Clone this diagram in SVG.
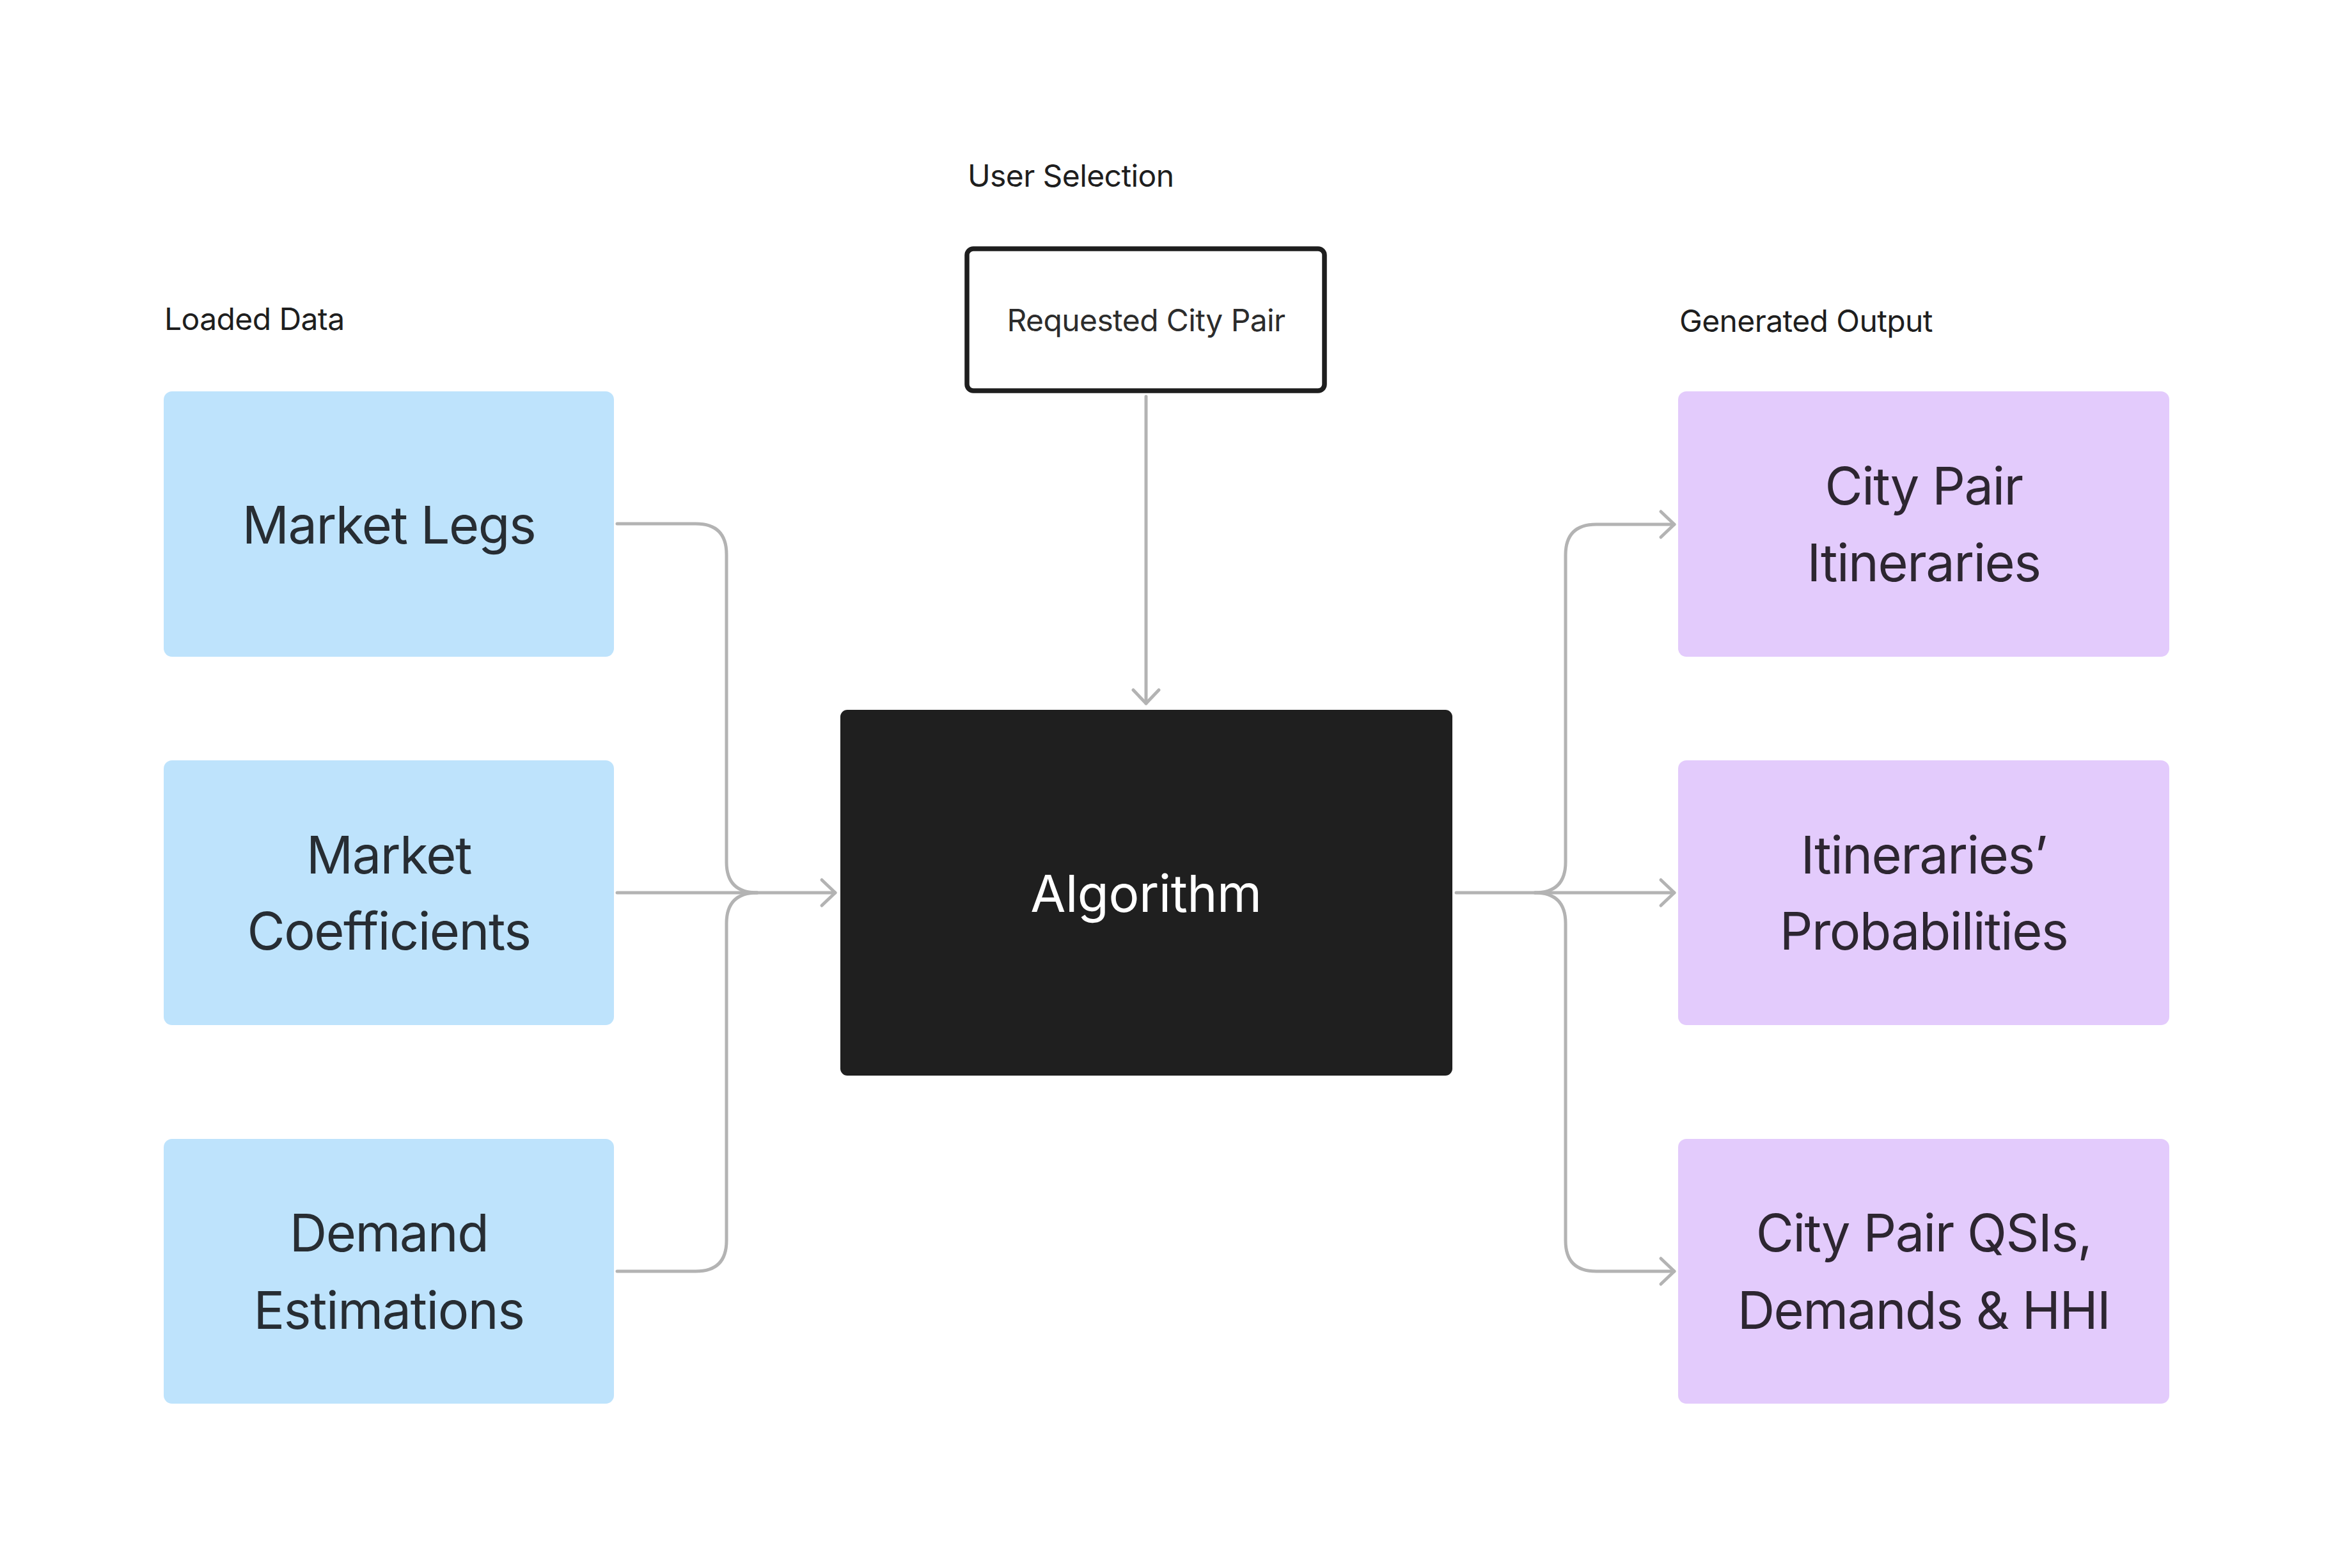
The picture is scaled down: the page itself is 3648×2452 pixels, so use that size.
<svg xmlns="http://www.w3.org/2000/svg" width="3648" height="2452" viewBox="0 0 3648 2452">
<style>
  .lbl { font-family: Inter, "Liberation Sans", sans-serif; font-size: 48px; fill: #1e1e1e; letter-spacing: -0.6px; }
  .big { font-family: Inter, "Liberation Sans", sans-serif; font-size: 81px; text-anchor: middle; letter-spacing: -1.5px; }
  .blue rect { fill: #bee3fc; }
  .blue text { fill: #272d33; }
  .purple rect { fill: #e3cbfc; }
  .purple text { fill: #2d2631; }
  .conn path { fill: none; stroke: #b3b3b3; stroke-width: 5; stroke-linecap: round; stroke-linejoin: round; }
</style>
<defs>
  <marker id="arrow" markerUnits="userSpaceOnUse" markerWidth="60" markerHeight="60" refX="0" refY="0" viewBox="-30 -30 60 60" orient="auto" overflow="visible">
    <path d="M -21 -20 L 0 0 L -21 20" fill="none" stroke="#b3b3b3" stroke-width="5" stroke-linecap="round" stroke-linejoin="round"/>
  </marker>
</defs>
<rect width="3648" height="2452" fill="#ffffff"/>

<text class="lbl" x="257" y="516">Loaded Data</text>
<text class="lbl" x="1513" y="292">User Selection</text>
<text class="lbl" x="2626" y="519">Generated Output</text>

<g class="conn" id="connectors">
  <path d="M 965 819 H 1088 Q 1136 819 1136 867 V 1348 Q 1136 1396 1184 1396"/>
  <path d="M 965 1988 H 1088 Q 1136 1988 1136 1940 V 1444 Q 1136 1396 1184 1396"/>
  <path d="M 965 1396 H 1306" marker-end="url(#arrow)"/>
  <path d="M 1792 620 V 1100" marker-end="url(#arrow)"/>
  <path d="M 2277 1396 H 2618" marker-end="url(#arrow)"/>
  <path d="M 2400 1396 Q 2448 1396 2448 1348 V 868 Q 2448 820 2496 820 H 2618" marker-end="url(#arrow)"/>
  <path d="M 2400 1396 Q 2448 1396 2448 1444 V 1940 Q 2448 1988 2496 1988 H 2618" marker-end="url(#arrow)"/>
</g>

<g id="market-legs" class="blue">
  <rect x="256" y="612" width="704" height="415" rx="13"/>
  <text class="big" x="608" y="850">Market Legs</text>
</g>
<g id="market-coefficients" class="blue">
  <rect x="256" y="1189" width="704" height="414" rx="13"/>
  <text class="big" x="608" y="1366">Market</text>
  <text class="big" x="608" y="1485">Coefficients</text>
</g>
<g id="demand-estimations" class="blue">
  <rect x="256" y="1781" width="704" height="414" rx="13"/>
  <text class="big" x="608" y="1957">Demand</text>
  <text class="big" x="608" y="2078">Estimations</text>
</g>

<g id="requested-city-pair">
  <rect x="1512" y="389" width="559" height="222" rx="10" fill="#ffffff" stroke="#1e1e1e" stroke-width="7.5"/>
  <text x="1792" y="518" font-family="Inter, 'Liberation Sans', sans-serif" font-size="48" letter-spacing="-0.6" fill="#2c2c2c" text-anchor="middle">Requested City Pair</text>
</g>

<g id="algorithm">
  <rect x="1314" y="1110" width="957" height="572" rx="11" fill="#1f1f1f"/>
  <text x="1792" y="1426" font-family="Inter, 'Liberation Sans', sans-serif" font-size="80" letter-spacing="-0.5" fill="#ffffff" text-anchor="middle">Algorithm</text>
</g>

<g id="city-pair-itineraries" class="purple">
  <rect x="2624" y="612" width="768" height="415" rx="13"/>
  <text class="big" x="3008" y="789">City Pair</text>
  <text class="big" x="3008" y="909">Itineraries</text>
</g>
<g id="itineraries-probabilities" class="purple">
  <rect x="2624" y="1189" width="768" height="414" rx="13"/>
  <text class="big" x="3008" y="1366">Itineraries’</text>
  <text class="big" x="3008" y="1485">Probabilities</text>
</g>
<g id="qsis-demands-hhi" class="purple">
  <rect x="2624" y="1781" width="768" height="414" rx="13"/>
  <text class="big" x="3008" y="1957">City Pair QSIs,</text>
  <text class="big" x="3008" y="2078">Demands &amp; HHI</text>
</g>
</svg>
